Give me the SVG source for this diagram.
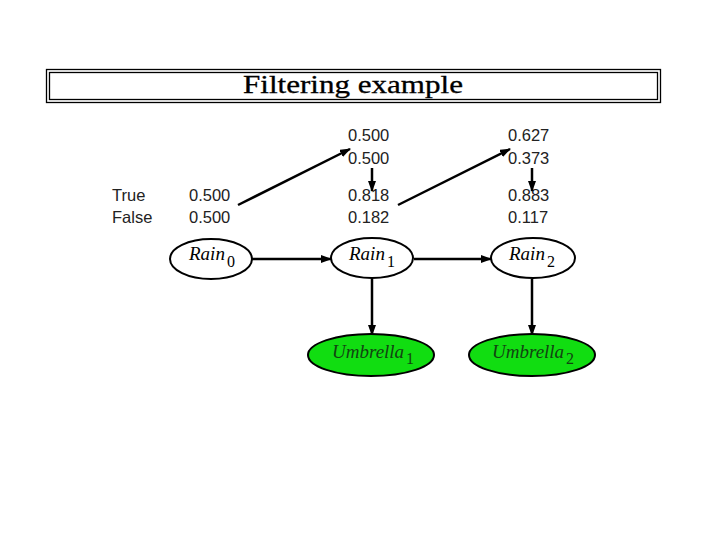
<svg xmlns="http://www.w3.org/2000/svg" width="720" height="540" viewBox="0 0 720 540">
<defs>
<marker id="ah" markerWidth="11" markerHeight="8" refX="10" refY="4" orient="auto" markerUnits="userSpaceOnUse">
<path d="M0,0 L11,4 L0,8 Z" fill="#000"/>
</marker>
<style>
.num{font-family:"Liberation Sans",Arial,sans-serif;font-size:16.5px;fill:#222}
.nm{font-family:"Liberation Serif","Times New Roman",serif;font-style:italic;font-size:19px;fill:#000}
.sub{font-family:"Liberation Serif","Times New Roman",serif;font-size:16px;fill:#000}
.ell{fill:#fff;stroke:#000;stroke-width:2}
.grn{fill:#11dd11;stroke:#000;stroke-width:2}
.edge{stroke:#000;stroke-width:2.5;fill:none}
.gt{fill:#114411}
</style>
</defs>
<rect width="720" height="540" fill="#fff"/>
<g id="title">
<rect x="46.5" y="69.5" width="614" height="33" fill="none" stroke="#000" stroke-width="1.3"/>
<rect x="49.5" y="72.5" width="608" height="27" fill="none" stroke="#000" stroke-width="1.3"/>
<text x="353" y="93" text-anchor="middle" font-family="Liberation Serif,'Times New Roman',serif" font-size="25" textLength="220" lengthAdjust="spacingAndGlyphs" stroke="#000" stroke-width="0.3">Filtering example</text>
</g>
<g id="labels">
<text class="num" x="112" y="201">True</text>
<text class="num" x="112" y="223">False</text>
<text class="num" x="189" y="201">0.500</text>
<text class="num" x="189" y="223">0.500</text>
<text class="num" x="348" y="141">0.500</text>
<text class="num" x="348" y="164">0.500</text>
<text class="num" x="348" y="201">0.818</text>
<text class="num" x="348" y="223">0.182</text>
<text class="num" x="508" y="141">0.627</text>
<text class="num" x="508" y="164">0.373</text>
<text class="num" x="508" y="201">0.883</text>
<text class="num" x="508" y="223">0.117</text>
</g>
<g id="connectors">
<line class="edge" x1="252" y1="259" x2="331" y2="259" marker-end="url(#ah)"/>
<line class="edge" x1="414" y1="259" x2="491" y2="259" marker-end="url(#ah)"/>
<line class="edge" x1="372" y1="279" x2="372" y2="335" marker-end="url(#ah)"/>
<line class="edge" x1="532" y1="279" x2="532" y2="335" marker-end="url(#ah)"/>
<line class="edge" x1="238" y1="205" x2="350" y2="149" stroke-width="3" marker-end="url(#ah)"/>
<line class="edge" x1="398" y1="205" x2="510" y2="149" stroke-width="3" marker-end="url(#ah)"/>
<line class="edge" x1="372" y1="168" x2="372" y2="191" stroke-width="4" marker-end="url(#ah)"/>
<line class="edge" x1="532" y1="168" x2="532" y2="191" stroke-width="4" marker-end="url(#ah)"/>
</g>
<g id="rain0">
<ellipse class="ell" cx="211" cy="259" rx="41" ry="20"/>
<text class="nm" x="189" y="260">Rain</text><text class="sub" x="227" y="267">0</text>
</g>
<g id="rain1">
<ellipse class="ell" cx="372" cy="258" rx="41" ry="20"/>
<text class="nm" x="349" y="260">Rain</text><text class="sub" x="387" y="267">1</text>
</g>
<g id="rain2">
<ellipse class="ell" cx="533" cy="258" rx="42" ry="20"/>
<text class="nm" x="509" y="260">Rain</text><text class="sub" x="547" y="267">2</text>
</g>
<g id="umbrella1">
<ellipse class="grn" cx="371" cy="355" rx="63" ry="21"/>
<text class="nm gt" x="332" y="358">Umbrella</text><text class="sub gt" x="406" y="364">1</text>
</g>
<g id="umbrella2">
<ellipse class="grn" cx="532" cy="355" rx="63" ry="21"/>
<text class="nm gt" x="492" y="358">Umbrella</text><text class="sub gt" x="566" y="364">2</text>
</g>
</svg>
